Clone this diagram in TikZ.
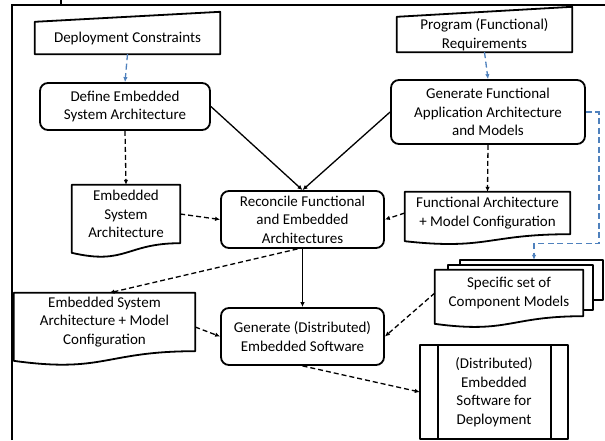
\documentclass[tikz,border=0pt]{standalone}
\usepackage{fontspec}
\setmainfont{Carlito}
\usetikzlibrary{arrows.meta,calc}
\definecolor{flowblue}{RGB}{79,129,189}
% outline of a document symbol round a node, wavy bottom below the node
\newcommand{\docshape}[1]{%
  \draw[outline] let \p1=(#1.north west), \p2=(#1.south east), \n1={\y1-\y2} in
    (\x1,\y1) -- (\x2,\y1) -- (\x2,\y2)
    .. controls ({0.5*(\x1+\x2)},\y2) and ({0.5*(\x1+\x2)},{\y2-0.38*\n1}) ..
    (\x1,{\y2-0.165*\n1}) -- cycle;}
\begin{document}
\begin{tikzpicture}[x=1pt,y=-1pt,
    every node/.style={font=\fontsize{15}{18.5}\selectfont, align=center, inner sep=0pt},
    outline/.style={line width=1.8pt, line join=round},
    process/.style={outline, draw, rounded corners=8pt},
    flow/.style={line width=1.3pt, -{Latex[length=5pt,width=4.5pt]}},
    dflow/.style={flow, dash pattern=on 5pt off 3pt},
    bflow/.style={flow, dash pattern=on 6pt off 3.5pt, flowblue}]
  \useasboundingbox (0,0) rectangle (605,440);
  % frame
  \draw[line width=1.4pt] (12,440) -- (12,5) -- (605,5);
  \draw[line width=1.4pt] (61,0) -- (61,5);

  % inputs
  \node[minimum width=185, minimum height=32] (dc) at (127.5,38) {Deployment Constraints};
  \node[minimum width=175, minimum height=35] (pr) at (484.5,34.5) {Program (Functional)\\Requirements};
  \draw[outline] (dc.south west) -- (dc.north west) -- ([yshift=10pt]dc.north east) -- (dc.south east) -- cycle;
  \draw[outline] (pr.south west) -- (pr.north west) -- ([yshift=10pt]pr.north east) -- (pr.south east) -- cycle;

  % processes
  \node[process, minimum width=170, minimum height=47] (def) at (125,106.5) {Define Embedded\\System Architecture};
  \node[process, minimum width=194, minimum height=64] (gfa) at (488,112) {Generate Functional\\Application Architecture\\and Models};
  \node[process, minimum width=163, minimum height=57] (rec) at (302.5,219.5) {Reconcile Functional\\and Embedded\\Architectures};
  \node[process, minimum width=163, minimum height=57] (gds) at (302.5,336.5) {Generate (Distributed)\\Embedded Software};

  % documents
  \node[minimum width=108, minimum height=58] (esa) at (126,214) {Embedded\\System\\Architecture};
  \node[minimum width=165, minimum height=42] (fa) at (487.5,213) {Functional Architecture\\+ Model Configuration};
  \node[minimum width=181, minimum height=58] (esamc) at (104.5,322) {Embedded System\\Architecture + Model\\Configuration};
  \node[minimum width=148, minimum height=46] (scm) at (509,293) {Specific set of\\Component Models};
  \docshape{esa}
  \docshape{fa}
  \docshape{esamc}
  \docshape{scm}
  % pages behind the component models
  \draw[outline] ([xshift=13pt]scm.north west) -- ([xshift=13pt,yshift=5pt]scm.north west)
    -- ([xshift=10pt,yshift=5pt]scm.north east) -- ([xshift=10pt,yshift=6pt]scm.south east)
    -- ([yshift=6pt]scm.south east);
  \draw[outline] ([xshift=25pt,yshift=5pt]scm.north west) -- ([xshift=25pt,yshift=10pt]scm.north west)
    -- ([xshift=20pt,yshift=10pt]scm.north east) -- ([xshift=20pt,yshift=16pt]scm.south east)
    -- ([xshift=10pt,yshift=16pt]scm.south east);
  \coordinate (scmback) at ([xshift=25pt,yshift=10pt]scm.north);

  % output
  \node[minimum width=148, minimum height=94] (dep) at (494,392) {(Distributed)\\Embedded\\Software for\\Deployment};
  \draw[outline] (dep.south west) rectangle (dep.north east);
  \draw[outline] ([xshift=18pt]dep.north west) -- ([xshift=18pt]dep.south west);
  \draw[outline] ([xshift=-17pt]dep.north east) -- ([xshift=-17pt]dep.south east);

  \begin{scope}[bflow]
    \draw (dc.south) -- (def.north);
    \draw (pr.south) -- (gfa.north);
    \draw (gfa.east) -- ++(13,0) |- ([yshift=16pt]scmback) -- (scmback);
  \end{scope}
  \begin{scope}[flow]
    \draw (def.east) -- (rec.north);
    \draw (gfa.west) -- (rec.north);
    \draw (rec.south) -- (gds.north);
  \end{scope}
  \begin{scope}[dflow]
    \draw (def.south) -- (esa.north);
    \draw (gfa.south) -- (fa.north);
    \draw (esa.east) -- (rec.west);
    \draw (fa.west) -- (rec.east);
    \draw ([xshift=-5pt]rec.south) -- ([xshift=5pt]esamc.north);
    \draw ([yshift=-5pt]esamc.east) -- (gds.west);
    \draw (scm.west) -- (gds.east);
    \draw (gds.south) -- (dep.west);
  \end{scope}
\end{tikzpicture}
\end{document}
